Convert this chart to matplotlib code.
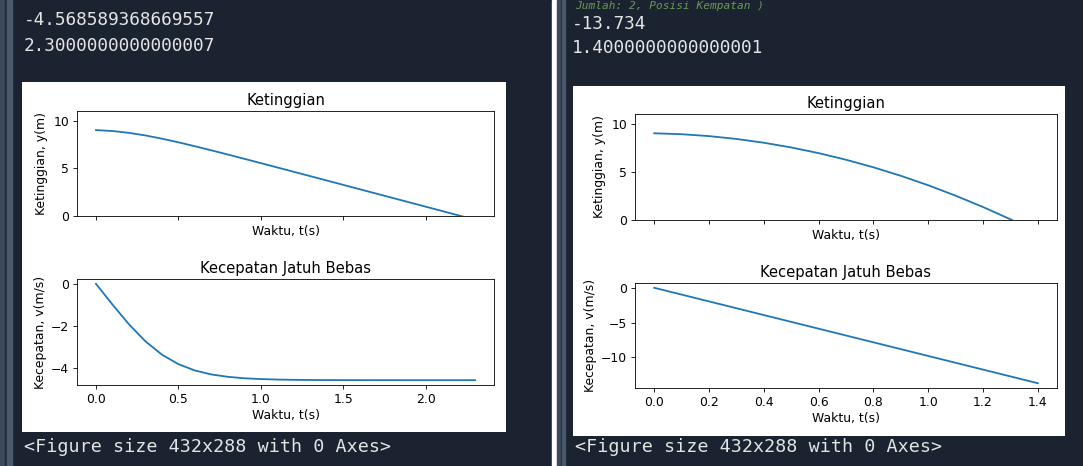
import matplotlib.pyplot as plt
from matplotlib.patches import Rectangle

# data (dt = 0.1 s)
t_kiri = [0.0, 0.1, 0.2, 0.3, 0.4, 0.5, 0.6, 0.7, 0.8, 0.9, 1.0, 1.1,
          1.2, 1.3, 1.4, 1.5, 1.6, 1.7, 1.8, 1.9, 2.0, 2.1, 2.2, 2.3]
y_kiri = [9.0, 8.902, 8.710, 8.438, 8.102, 7.721, 7.310, 6.881, 6.440,
          5.992, 5.541, 5.087, 4.632, 4.176, 3.720, 3.263, 2.806, 2.350,
          1.893, 1.436, 0.979, 0.522, 0.065, -0.392]
v_kiri = [0.0, -0.981, -1.917, -2.725, -3.357, -3.808, -4.108, -4.296,
          -4.409, -4.477, -4.516, -4.538, -4.551, -4.559, -4.563, -4.566,
          -4.567, -4.568, -4.5682, -4.5684, -4.5685, -4.5685, -4.5686, -4.5686]

t_kanan = [0.0, 0.1, 0.2, 0.3, 0.4, 0.5, 0.6, 0.7, 0.8, 0.9, 1.0, 1.1,
           1.2, 1.3, 1.4]
y_kanan = [9.0, 8.902, 8.706, 8.411, 8.019, 7.529, 6.940, 6.253, 5.468,
           4.586, 3.605, 2.525, 1.348, 0.073, -1.301]
v_kanan = [0.0, -0.981, -1.962, -2.943, -3.924, -4.905, -5.886, -6.867,
           -7.848, -8.829, -9.81, -10.791, -11.772, -12.753, -13.734]

teks_atas_kiri = ["-4.568589368669557", "2.3000000000000007"]
teks_atas_kanan = ["-13.734", "1.4000000000000001"]
teks_potong = "Jumlah: 2, Posisi Kempatan )"
teks_bawah = "<Figure size 432x288 with 0 Axes>"

W, H = 1083, 466
BG = '#1b2330'
STRIP = '#3d4a5d'
TXT = '#e4e4e4'

fig = plt.figure(figsize=(W / 100, H / 100), dpi=100, facecolor=BG)


def rect(l, t, r, b):
    return [l / W, 1 - b / H, (r - l) / W, (b - t) / H]


def kotak(l, t, r, b, warna):
    fig.patches.append(Rectangle((l / W, 1 - b / H), (r - l) / W, (b - t) / H,
                                 transform=fig.transFigure, color=warna, zorder=0))


# side strips of the notebook cells and the white gap between the screenshots
kotak(0, 0, 5, H, STRIP)
kotak(5, 0, 7, H, '#222c39')
kotak(7, 0, 12, H, '#4a586c')
kotak(552, 0, 557, H, 'white')
kotak(557, 0, 561, H, STRIP)
kotak(561, 0, 562, H, '#222c39')
kotak(562, 0, 565, H, '#4a586c')

# white figure panels
for l, t, r, b in [(22, 82, 506, 432), (573, 86, 1065, 436)]:
    p = fig.add_axes(rect(l, t, r, b), facecolor='white')
    p.set_xticks([])
    p.set_yticks([])
    for s in p.spines.values():
        s.set_visible(False)
    p.set_zorder(0)

mono = 'DejaVu Sans Mono'
for i, s in enumerate(teks_atas_kiri):
    fig.text(24 / W, 1 - (20 + 26 * i) / H, s, color=TXT, family=mono,
             fontsize=12.8, va='center')
for i, s in enumerate(teks_atas_kanan):
    fig.text(572 / W, 1 - (24 + 24 * i) / H, s, color=TXT, family=mono,
             fontsize=12.8, va='center')
fig.text(575 / W, 1 - 1 / H, teks_potong, color='#6a9955',
         family=mono, style='italic', fontsize=8, va='top')
fig.text(24 / W, 1 - 447 / H, teks_bawah, color=TXT, family=mono,
         fontsize=13.2, va='center')
fig.text(575 / W, 1 - 447 / H, teks_bawah, color=TXT, family=mono,
         fontsize=13.2, va='center')

fs_tick = 8.9
fs_title = 10.6


def gaya(ax):
    ax.tick_params(labelsize=fs_tick, length=2.8, width=0.6, pad=3)
    for s in ax.spines.values():
        s.set_linewidth(0.6)
    ax.set_zorder(2)


def panel(t, y, v, xl, yt1, yb1, yt2, yb2):
    ax2 = fig.add_axes(rect(xl[0], yt2, xl[1], yb2))
    ax1 = fig.add_axes(rect(xl[0], yt1, xl[1], yb1), sharex=ax2)
    ax1.plot(t, y, color='#1f77b4', lw=1.3)
    ax1.set_ylim(0, 11)
    ax1.set_title('Ketinggian', fontsize=fs_title, pad=4)
    ax1.set_xlabel('Waktu, t(s)', fontsize=fs_tick, labelpad=4)
    ax1.set_ylabel('Ketinggian, y(m)', fontsize=fs_tick, labelpad=4)
    ax1.tick_params(labelbottom=False)
    ax2.plot(t, v, color='#1f77b4', lw=1.3)
    ax2.set_title('Kecepatan Jatuh Bebas', fontsize=fs_title, pad=4)
    ax2.set_xlabel('Waktu, t(s)', fontsize=fs_tick, labelpad=2)
    ax2.set_ylabel('Kecepatan, v(m/s)', fontsize=fs_tick, labelpad=3)
    gaya(ax1)
    gaya(ax2)
    return ax1, ax2


a1, a2 = panel(t_kiri, y_kiri, v_kiri, (77, 494), 111, 216, 279, 385)
a2.set_xticks([0.0, 0.5, 1.0, 1.5, 2.0])
b1, b2 = panel(t_kanan, y_kanan, v_kanan, (635, 1057), 114, 220, 283, 388)
b2.set_xticks([0.0, 0.2, 0.4, 0.6, 0.8, 1.0, 1.2, 1.4])

fig.savefig('out.png', dpi=100, facecolor=BG)
